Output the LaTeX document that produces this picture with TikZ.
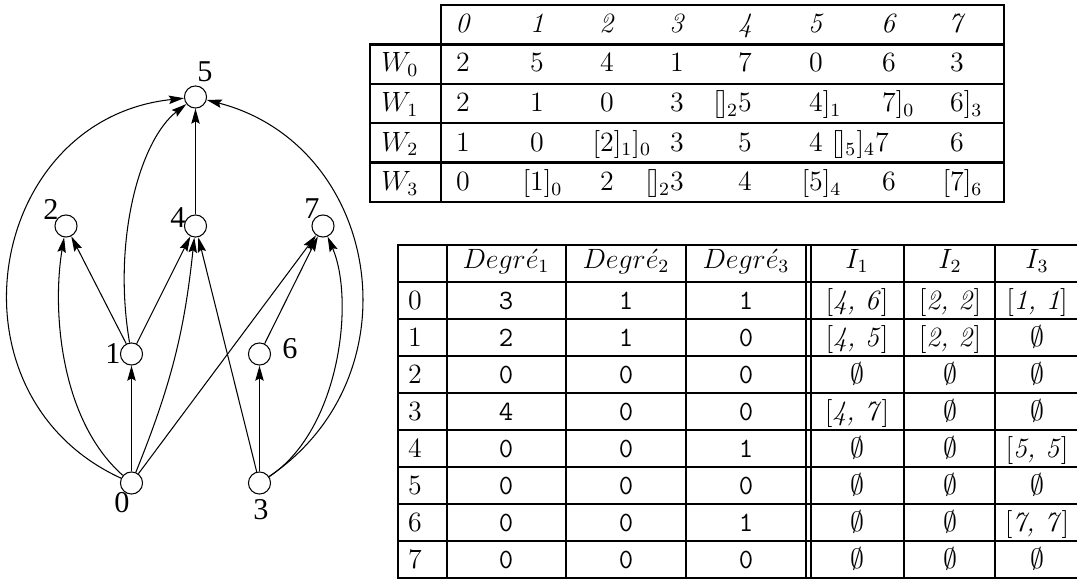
\documentclass[tikz,border=0pt]{standalone}
\usepackage{fontspec}
\newfontfamily\graphfont{Liberation Serif}
\usetikzlibrary{arrows.meta}
\newcommand\iv[2]{[\textit{#1, #2}]}
\newcommand\es{$\emptyset$}
\newcommand\eb{[\mkern-1mu]}
\tikzset{
 vtx/.style={circle,draw,line width=0.45pt,minimum size=9.5pt,inner sep=0pt},
 vlab/.style={font=\graphfont\fontsize{13}{15}\selectfont,inner sep=0pt},
 arc/.style={line width=0.45pt,-{Stealth[length=6.5pt,width=3.6pt,inset=1pt]}},
 rulew/.style={line width=1pt,line cap=rect},
 cell/.style={inner sep=0pt,anchor=base,font=\large},
}
\begin{document}
\begin{tikzpicture}[x=0.43pt,y=-0.43pt]
\useasboundingbox (0,0) rectangle (1077,581);
% ---------------- graph
\node[vtx] (n5) at (195.5,97) {};
\node[vtx] (n2) at (66,226) {};
\node[vtx] (n4) at (195.5,226) {};
\node[vtx] (n7) at (323,226) {};
\node[vtx] (n1) at (131.5,354) {};
\node[vtx] (n6) at (259.5,354) {};
\node[vtx] (n0) at (131.5,483) {};
\node[vtx] (n3) at (259.5,483) {};
\node[vlab] (l5) at (205,72) {5};
\node[vlab] (l2) at (51,209) {2};
\node[vlab] (l4) at (178,218) {4};
\node[vlab] (l7) at (312,209) {7};
\node[vlab] (l1) at (113,354) {1};
\node[vlab] (l6) at (290,349) {6};
\node[vlab] (l0) at (122,503) {0};
\node[vlab] (l3) at (261,510) {3};
\draw[arc] (n0) -- (n1);
\draw[arc] (n0) .. controls (60,420) and (52,310) .. (n2);
\draw[arc] (n0) .. controls (-60,395) and (-14,119) .. (n5);
\draw[arc] (n0) to[bend right=8] (n4);
\draw[arc] (n0) -- (n7);
\draw[arc] (n1) -- (n2);
\draw[arc] (n1) .. controls (112,240) and (140,140) .. (n5);
\draw[arc] (n1) -- (n4);
\draw[arc] (n4) -- (n5);
\draw[arc] (n3) -- (n4);
\draw[arc] (n3) -- (n6);
\draw[arc] (n6) -- (n7);
\draw[arc] (n3) .. controls (340,430) and (355,300) .. (n7);
\draw[arc] (n3) .. controls (419,375) and (380,145) .. (n5);
% ---------------- top table
\draw[rulew] (441,5) -- (1004,5);
\foreach \y in {44.4,83.8,123.2,162.6,202} \draw[rulew] (370,\y) -- (1004,\y);
\draw[rulew] (370,44.4) -- (370,202);
\draw[rulew] (441,5) -- (441,202);
\draw[rulew] (1004,5) -- (1004,202);
% header
\foreach \x/\t in {463/0,537/1,607/2,677/3,745/4,816/5,889/6,957/7}
  \node[cell] (h\t) at (\x,33) {\textit{\t}};
% row labels
\foreach \i/\y in {0/72,1/112,2/151.5,3/191}
  \node[cell,anchor=base west] (w\i) at (381,\y) {$W_\i$};
% W0
\foreach \x/\t [count=\c from 0] in {463/2,537/5,607/4,677/1,745/7,816/0,889/6,957/3}
  \node[cell] (wa\c) at (\x,72) {\t};
% W1
\node[cell] (wb0) at (463,112) {2};
\node[cell] (wb1) at (537,112) {1};
\node[cell] (wb2) at (607,112) {0};
\node[cell] (wb3) at (677,112) {3};
\node[cell] (wb4) at (745,112) {\llap{$\eb_2$}5};
\node[cell] (wb5) at (816,112) {4\rlap{$]_1$}};
\node[cell] (wb6) at (889,112) {7\rlap{$]_0$}};
\node[cell] (wb7) at (957,112) {6\rlap{$]_3$}};
% W2
\node[cell] (wc0) at (463,151.5) {1};
\node[cell] (wc1) at (537,151.5) {0};
\node[cell] (wc2) at (607,151.5) {\llap{$[$}2\rlap{$]_1]_0$}};
\node[cell] (wc3) at (677,151.5) {3};
\node[cell] (wc4) at (745,151.5) {5};
\node[cell] (wc5) at (816,151.5) {4};
\node[cell] (wc6) at (882,151.5) {\llap{$\eb_5]_4$}7};
\node[cell] (wc7) at (957,151.5) {6};
% W3
\node[cell] (wd0) at (463,191) {0};
\node[cell] (wd1) at (537,191) {\llap{$[$}1\rlap{$]_0$}};
\node[cell] (wd2) at (607,191) {2};
\node[cell] (wd3) at (677,191) {\llap{$\eb_2$}3};
\node[cell] (wd4) at (745,191) {4};
\node[cell] (wd5) at (816,191) {\llap{$[$}5\rlap{$]_4$}};
\node[cell] (wd6) at (889,191) {6};
\node[cell] (wd7) at (957,191) {\llap{$[$}7\rlap{$]_6$}};
% ---------------- bottom table
\foreach \k in {0,...,9} \draw[rulew] (398,{245+37*\k}) -- (1077,{245+37*\k});
\foreach \x in {398,447,566,686,806,811,904,995} \draw[rulew] (\x,245) -- (\x,578);
\node[cell] (hd1) at (506,268.5) {$Degr\acute{e}_1$};
\node[cell] (hd2) at (626,268.5) {$Degr\acute{e}_2$};
\node[cell] (hd3) at (746,268.5) {$Degr\acute{e}_3$};
\node[cell] (hi1) at (857,268.5) {$I_1$};
\node[cell] (hi2) at (950,268.5) {$I_2$};
\node[cell] (hi3) at (1037,268.5) {$I_3$};
\foreach \r/\a/\b/\c/\p/\q/\s in {0/3/1/1/\iv46/\iv22/\iv11, 1/2/1/0/\iv45/\iv22/\es, 2/0/0/0/\es/\es/\es, 3/4/0/0/\iv47/\es/\es, 4/0/0/1/\es/\es/\iv55, 5/0/0/0/\es/\es/\es, 6/0/0/1/\es/\es/\iv77, 7/0/0/0/\es/\es/\es}{
  \pgfmathsetmacro\yb{309+37*\r}
  \node[cell] (idx\r) at (415,\yb) {\r};
  \node[cell] (da\r) at (506,\yb) {\texttt{\a}};
  \node[cell] (db\r) at (626,\yb) {\texttt{\b}};
  \node[cell] (dc\r) at (746,\yb) {\texttt{\c}};
  \node[cell] (ia\r) at (857,\yb) {\p};
  \node[cell] (ib\r) at (950,\yb) {\q};
  \node[cell] (ic\r) at (1037,\yb) {\s};
}
\end{tikzpicture}
\end{document}
